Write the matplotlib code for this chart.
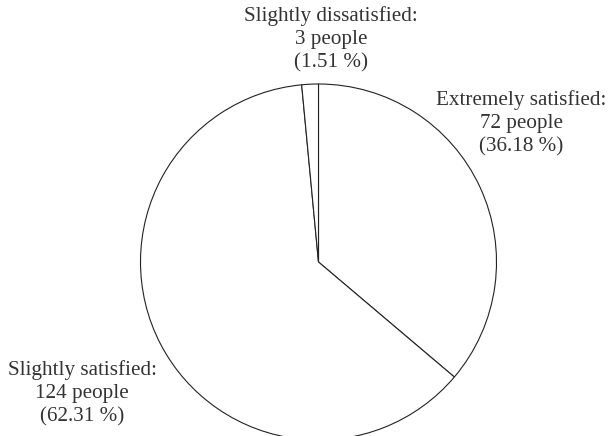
import matplotlib
matplotlib.use("Agg")
import matplotlib.pyplot as plt

categories = ["Extremely satisfied", "Slightly satisfied", "Slightly dissatisfied"]
counts = [72, 124, 3]
percents = [36.18, 62.31, 1.51]

W, H = 609, 436
fig = plt.figure(figsize=(W / 100, H / 100), dpi=100)
ax = fig.add_axes([0, 0, 1, 1])

cx, cy, r = 318.5, H - 262, 178
ax.pie(counts, center=(cx, cy), radius=r, startangle=90, counterclock=False,
       colors=["white"] * len(counts),
       wedgeprops=dict(edgecolor="#222222", linewidth=0.8), frame=True)
ax.set_xlim(0, W)
ax.set_ylim(0, H)
ax.set_aspect("equal")
ax.axis("off")

label_pos = [(521, H - 123), (82, H - 393), (331, H - 39)]
for cat, n, p, (x, y) in zip(categories, counts, percents, label_pos):
    ax.text(x, y, f"{cat}:\n{n} people\n({p:.2f} %)", ha="center", va="center",
            fontsize=15.2, family="Liberation Serif", color="#333333",
            linespacing=1.3)

fig.savefig("out.png", dpi=100)
